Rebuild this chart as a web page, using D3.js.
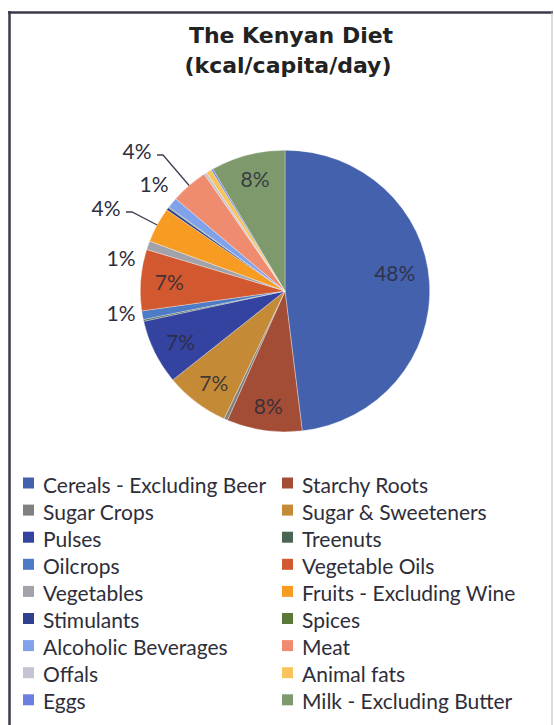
<!DOCTYPE html>
<html>
<head>
<meta charset="utf-8">
<script src="https://cdn.jsdelivr.net/npm/d3@7"></script>
<style>
  html, body { margin: 0; padding: 0; background: #fff; }
  svg { display: block; }
</style>
</head>
<body>
<svg id="chart" width="554" height="725"></svg>
<script>
// Food groups in legend / slice order
const categories = [
  "Cereals - Excluding Beer", "Starchy Roots",
  "Sugar Crops", "Sugar & Sweeteners",
  "Pulses", "Treenuts",
  "Oilcrops", "Vegetable Oils",
  "Vegetables", "Fruits - Excluding Wine",
  "Stimulants", "Spices",
  "Alcoholic Beverages", "Meat",
  "Offals", "Animal fats",
  "Eggs", "Milk - Excluding Butter"
];

// Share of daily calorie supply (%)
const shares = [
  48.0, 8.4,
  0.4, 7.2,
  7.4, 0.2,
  1.0, 7.0,
  1.0, 4.0,
  0.3, 0.1,
  1.2, 4.2,
  0.3, 0.6,
  0.2, 8.3
];

const colors = [
  "#4461ad", "#a34d36",
  "#808080", "#c48a35",
  "#3443a0", "#4b6552",
  "#4d7bc6", "#d2582f",
  "#a2a2ab", "#f79b23",
  "#30408f", "#5a7838",
  "#7fa2ea", "#ef8b6f",
  "#c3c3d2", "#f8c35c",
  "#6c7fe0", "#7e9a6d"
];

// Percentage labels shown on the pie
const labelText = {
  "Cereals - Excluding Beer": "48%",
  "Starchy Roots": "8%",
  "Sugar & Sweeteners": "7%",
  "Pulses": "7%",
  "Oilcrops": "1%",
  "Vegetable Oils": "7%",
  "Vegetables": "1%",
  "Fruits - Excluding Wine": "4%",
  "Alcoholic Beverages": "1%",
  "Meat": "4%",
  "Milk - Excluding Butter": "8%"
};

// Labels set outside the pie: offset from centre, optional leader line
const outsideLabels = {
  "Oilcrops": { dx: -164, dy: 21 },
  "Vegetables": { dx: -164, dy: -34 },
  "Fruits - Excluding Wine": { dx: -179, dy: -84, leader: true },
  "Alcoholic Beverages": { dx: -131, dy: -108 },
  "Meat": { dx: -148, dy: -141, leader: true }
};

const data = categories.map((c, i) => ({ name: c, value: shares[i], color: colors[i] }));

const svg = d3.select("#chart");

// Frame
svg.append("line").attr("x1", 8).attr("x2", 553).attr("y1", 12.5).attr("y2", 12.5)
  .attr("stroke", "#3b3b4c").attr("stroke-width", 2.5);
svg.append("line").attr("x1", 9.5).attr("x2", 9.5).attr("y1", 11).attr("y2", 725)
  .attr("stroke", "#3b3b4c").attr("stroke-width", 2.5);
svg.append("line").attr("x1", 552).attr("x2", 552).attr("y1", 12).attr("y2", 725)
  .attr("stroke", "#b8b8c0").attr("stroke-width", 1);

// Title
const title = svg.append("text")
  .attr("text-anchor", "middle")
  .attr("font-family", "'DejaVu Sans', Verdana, sans-serif")
  .attr("font-weight", "bold")
  .attr("font-size", 22)
  .attr("fill", "#222");
title.append("tspan").attr("x", 291).attr("y", 43).text("The Kenyan Diet");
title.append("tspan").attr("x", 288).attr("y", 73).text("(kcal/capita/day)");

// Pie
const cx = 285, cy = 291, R = 143;
const sx = 1.012, sy = 0.985;
const pie = d3.pie().value(d => d.value).sort(null);
const arcs = pie(data);
const arc = d3.arc().innerRadius(0).outerRadius(R);

const g = svg.append("g").attr("transform", `translate(${cx},${cy}) scale(${sx},${sy})`);

g.selectAll("path.slice")
  .data(arcs)
  .join("path")
  .attr("class", "slice")
  .attr("d", arc)
  .attr("fill", d => d.data.color)
  .attr("stroke", "rgba(255,255,255,0.55)")
  .attr("stroke-width", 0.6);

const labelFont = "Lato, 'Open Sans', sans-serif";

// Inside labels along each slice's mid-angle
arcs.filter(d => labelText[d.data.name] && !outsideLabels[d.data.name]).forEach(d => {
  const big = d.value > 30;
  const r = big ? 110 : 116;
  const a = (d.startAngle + d.endAngle) / 2;
  const x = cx + r * Math.sin(a), y = cy - r * Math.cos(a) - (big ? 12 : 0);
  svg.append("text")
    .attr("x", x).attr("y", y)
    .attr("text-anchor", "middle")
    .attr("dominant-baseline", "central")
    .attr("font-family", labelFont)
    .attr("font-size", 21)
    .attr("fill", "#2a2a38")
    .attr("fill-opacity", 0.85)
    .text(labelText[d.data.name]);
});

// Outside labels with leader lines to the slice edge
arcs.filter(d => outsideLabels[d.data.name]).forEach(d => {
  const o = outsideLabels[d.data.name];
  const tx = cx + o.dx, ty = cy + o.dy;
  svg.append("text")
    .attr("x", tx).attr("y", ty)
    .attr("text-anchor", "middle")
    .attr("dominant-baseline", "central")
    .attr("font-family", labelFont)
    .attr("font-size", 21)
    .attr("fill", "#2e2e3c")
    .text(labelText[d.data.name]);
  if (o.leader) {
    const a = (d.startAngle + d.endAngle) / 2;
    const ex = cx + R * sx * Math.sin(a), ey = cy - R * sy * Math.cos(a);
    const lx = tx + 20, ly = ty + 5;
    svg.append("polyline")
      .attr("points", `${lx},${ly} ${lx + 6},${ly} ${ex},${ey}`)
      .attr("fill", "none")
      .attr("stroke", "#3e3e52")
      .attr("stroke-width", 1.3);
  }
});

// Legend: two columns, row-major order
const legend = svg.append("g");
const rowH = 27.1, row0 = 483;
const colX = [23, 282];
data.forEach((d, i) => {
  const col = i % 2, row = Math.floor(i / 2);
  const y = row0 + row * rowH;
  legend.append("rect")
    .attr("x", colX[col]).attr("y", y - 5.5)
    .attr("width", 11).attr("height", 11)
    .attr("fill", d.color);
  legend.append("text")
    .attr("x", colX[col] + 20).attr("y", y + 1)
    .attr("dominant-baseline", "central")
    .attr("font-family", "Lato, 'Open Sans', sans-serif")
    .attr("font-size", 21)
    .attr("fill", "#2e2e3a")
    .text(d.name);
});
</script>
</body>
</html>
